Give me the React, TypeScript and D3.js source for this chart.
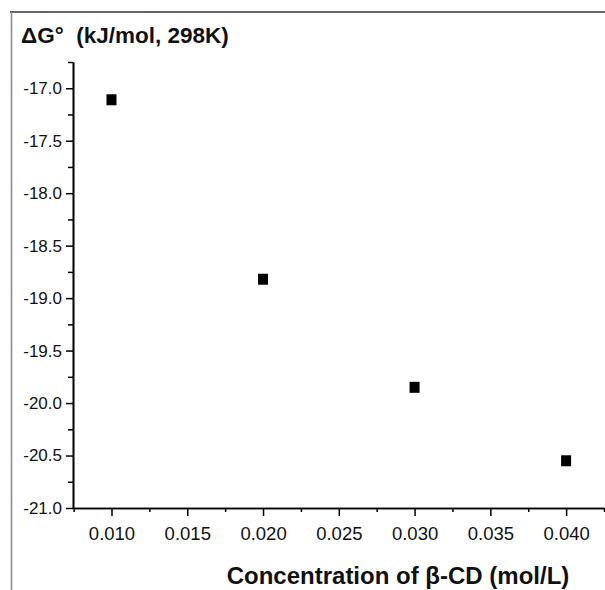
import React, { useEffect, useRef } from 'react';
import * as d3 from 'd3';

// beta-CD concentration (mol/L) vs Gibbs free energy at 298 K
const concentration = [0.01, 0.02, 0.03, 0.04];
const deltaG = [-17.11, -18.82, -19.85, -20.55];

const xTicks = [0.01, 0.015, 0.02, 0.025, 0.03, 0.035, 0.04];
const xMinorTicks = [0.0075, 0.0125, 0.0175, 0.0225, 0.0275, 0.0325, 0.0375, 0.0425];
const yTicks = [-17.0, -17.5, -18.0, -18.5, -19.0, -19.5, -20.0, -20.5, -21.0];
const yMinorTicks = [-16.75, -17.25, -17.75, -18.25, -18.75, -19.25, -19.75, -20.25, -20.75];

const yTitle = 'ΔG°  (kJ/mol, 298K)';
const xTitle = 'Concentration of β-CD (mol/L)';

const App = () => {
  const ref = useRef<SVGSVGElement>(null);

  useEffect(() => {
    const svgWidth = 605,
      svgHeight = 590;
    const font = '"Liberation Sans", Arial, sans-serif';

    const svg = d3.select(ref.current);
    svg.selectAll('*').remove();
    svg.attr('width', svgWidth).attr('height', svgHeight);

    svg.append('rect').attr('width', svgWidth).attr('height', svgHeight).attr('fill', '#fff');

    // outer frame (top and left edges only are visible)
    svg
      .append('line')
      .attr('x1', 10)
      .attr('x2', svgWidth)
      .attr('y1', 12)
      .attr('y2', 12)
      .attr('stroke', '#333')
      .attr('stroke-width', 1.5);
    svg
      .append('line')
      .attr('x1', 11.5)
      .attr('x2', 11.5)
      .attr('y1', 12)
      .attr('y2', svgHeight)
      .attr('stroke', '#888')
      .attr('stroke-width', 1.5);

    const x = d3.scaleLinear().domain([0.00746, 0.0425]).range([73, 604]);
    const y = d3.scaleLinear().domain([-21, -16.75]).range([508, 62]);

    const styleAxis = (g: any) => {
      g.select('.domain').attr('stroke', '#000').attr('stroke-width', 1.6);
      g.selectAll('.tick line').attr('stroke', '#000').attr('stroke-width', 1.5);
      g.selectAll('.tick text')
        .attr('fill', '#111')
        .style('font-family', font);
    };

    // minor ticks
    svg
      .append('g')
      .attr('transform', 'translate(0,508)')
      .call(d3.axisBottom(x).tickValues(xMinorTicks).tickSize(4).tickSizeOuter(0).tickFormat(() => ''))
      .call(styleAxis);
    svg
      .append('g')
      .attr('transform', 'translate(73,0)')
      .call(d3.axisLeft(y).tickValues(yMinorTicks).tickSize(5).tickSizeOuter(0).tickFormat(() => ''))
      .call(styleAxis);

    // major ticks
    svg
      .append('g')
      .attr('transform', 'translate(0,508)')
      .call(
        d3
          .axisBottom(x)
          .tickValues(xTicks)
          .tickSize(8)
          .tickSizeOuter(0)
          .tickPadding(11)
          .tickFormat((d: any) => (+d).toFixed(3))
      )
      .call(styleAxis)
      .selectAll('.tick text')
      .style('font-size', '18.5px');

    svg
      .append('g')
      .attr('transform', 'translate(73,0)')
      .call(
        d3
          .axisLeft(y)
          .tickValues(yTicks)
          .tickSize(7)
          .tickSizeOuter(0)
          .tickPadding(4)
          .tickFormat((d: any) => (+d).toFixed(1))
      )
      .call(styleAxis)
      .selectAll('.tick text')
      .style('font-size', '17px');

    // data points
    svg
      .append('g')
      .selectAll('rect')
      .data(concentration)
      .enter()
      .append('rect')
      .attr('x', (d) => x(d) - 5)
      .attr('y', (d, i) => y(deltaG[i]) - 5.5)
      .attr('width', 10)
      .attr('height', 11)
      .attr('fill', '#000');

    svg
      .append('text')
      .attr('x', 21)
      .attr('y', 43)
      .attr('fill', '#111')
      .style('font-family', font)
      .style('font-size', '22.5px')
      .style('font-weight', 'bold')
      .style('white-space', 'pre')
      .text(yTitle);

    svg
      .append('text')
      .attr('x', 398)
      .attr('y', 584)
      .attr('text-anchor', 'middle')
      .attr('fill', '#111')
      .style('font-family', font)
      .style('font-size', '24px')
      .style('font-weight', 'bold')
      .text(xTitle);
  }, []);

  return <svg ref={ref} style={{ position: 'absolute', left: 0, top: 0 }}></svg>;
};

export default App;
